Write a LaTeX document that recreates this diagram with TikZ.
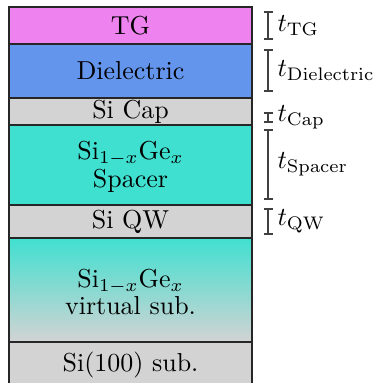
\documentclass[tikz,border=0pt]{standalone}
\usetikzlibrary{calc}
\definecolor{tgviolet}{HTML}{EE82EE}
\definecolor{dielblue}{HTML}{6495ED}
\definecolor{sigray}{HTML}{D3D3D3}
\definecolor{sigeteal}{HTML}{40E0D0}
% vertical thickness bar with its label: top y, bottom y, label, name
\newcommand{\gapbar}[4]{%
  \coordinate (#4top) at (268,#1);
  \coordinate (#4bot) at (268,#2);
  \draw[gapline] (263.5,#1) -- (272.5,#1)
                 (#4top) -- (#4bot)
                 (263.5,#2) -- (272.5,#2);
  \node[tlbl] (#4lbl) at ($(#4top)!0.5!(#4bot)+(9,0)$) {#3};}
\begin{document}
\begin{tikzpicture}[x=0.385pt,y=0.385pt,
  edge/.style={draw=black!85, line width=0.55pt},
  gapline/.style={draw=black!75, line width=0.55pt},
  lbl/.style={align=center, inner sep=0pt, font=\fontsize{10}{10.6}\selectfont},
  tlbl/.style={anchor=west, inner sep=0pt}]
\useasboundingbox (0,0) rectangle (383,383);

% layer stack, top to bottom
\fill[tgviolet]  (9,376) rectangle (252,339);
\fill[dielblue]  (9,339) rectangle (252,285);
\fill[sigray]    (9,285) rectangle (252,258);
\fill[sigeteal]  (9,258) rectangle (252,178);
\fill[sigray]    (9,178) rectangle (252,145);
\shade[top color=sigeteal, bottom color=sigray] (9,145) rectangle (252,41);
\fill[sigray]    (9,41) rectangle (252,0);

% outlines and interfaces
\draw[edge] (9,0) -- (9,376) -- (252,376) -- (252,0);
\foreach \yy in {339,285,258,178,145,41}
  \draw[edge] (9,\yy) -- (252,\yy);

% layer names
\node[lbl] (tg)   at (130.5,357.5) {TG};
\node[lbl] (diel) at (130.5,312) {Dielectric};
\node[lbl] (cap)  at (130.5,271.5) {Si Cap};
\node[lbl] (spc)  at (130.5,216) {Si$_{1-x}$Ge$_x$\\Spacer};
\node[lbl] (qw)   at (130.5,161.5) {Si QW};
\node[lbl] (vsub) at (130.5,91) {Si$_{1-x}$Ge$_x$\\virtual sub.};
\node[lbl] (sub)  at (130.5,18) {Si(100) sub.};

% thickness markers
\gapbar{371}{344}{$t_{\mathrm{TG}}$}{btg}
\gapbar{333}{292}{$t_{\mathrm{Dielectric}}$}{bdiel}
\gapbar{270}{261}{$t_{\mathrm{Cap}}$}{bcap}
\gapbar{253}{184}{$t_{\mathrm{Spacer}}$}{bspc}
\gapbar{174}{149}{$t_{\mathrm{QW}}$}{bqw}
\end{tikzpicture}
\end{document}
